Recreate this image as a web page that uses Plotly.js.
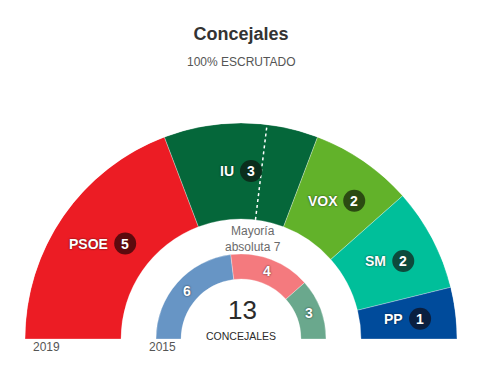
<!DOCTYPE html>
<html><head><meta charset="utf-8">
<script src="https://cdn.plot.ly/plotly-3.0.1.min.js"></script>
<style>html,body{margin:0;padding:0;background:#fff}#chart{width:486px;height:365px}</style>
</head><body><div id="chart"></div>
<script>
// ---- data ----
const parties2019 = ['PSOE', 'IU', 'VOX', 'SM', 'PP'];
const seats2019 = [5, 3, 2, 2, 1];
const colors2019 = ['#ec1c24', '#05673a', '#62b22a', '#00bf9a', '#004b9b'];
const badgeColors2019 = ['#5c0a0e', '#0a2e1c', '#2b4a12', '#0d4a3c', '#0a1f40'];
const seats2015 = [6, 4, 3];
const colors2015 = ['#6795c5', '#f47a7e', '#6aa88d'];
const totalSeats = 13;
const majority = 7;
const yearLabels = ['2019', '2015'];
const titleText = 'Concejales';
const subtitleText = '100% ESCRUTADO';
const centerLabel = 'CONCEJALES';
const majorityLines = ['Mayoría', 'absoluta 7'];

// ---- geometry ----
const W = 486, H = 365;
const R = 216, cx = 241, cy = 339;
const outerIn = 120, innerOut = 85, innerIn = 60;
const FONT = 'Liberation Sans, Arial, sans-serif';
const deg = v => v * 180 / totalSeats;
function arcs(vals) {
  let c = 0;
  return vals.map(v => { const mid = c + v / 2; c += v; return {mid: deg(mid), w: deg(v)}; });
}
const a19 = arcs(seats2019), a15 = arcs(seats2015);
const px = (r, th) => { const phi = (180 - th) * Math.PI / 180; return [cx + r * Math.cos(phi), cy - r * Math.sin(phi)]; };
const toP = (x, y) => [x / W, 1 - y / H];

const shadow = '0px 0px 2px rgba(0,0,0,0.75)';

const traces = [
  {
    type: 'barpolar', r: seats2019.map(() => R - outerIn), base: seats2019.map(() => outerIn),
    theta: a19.map(d => d.mid), width: a19.map(d => d.w),
    marker: {color: colors2019, line: {color: 'rgba(255,255,255,0.5)', width: 0.6}},
    hoverinfo: 'skip', showlegend: false
  },
  {
    type: 'barpolar', r: seats2015.map(() => innerOut - innerIn), base: seats2015.map(() => innerIn),
    theta: a15.map(d => d.mid), width: a15.map(d => d.w),
    marker: {color: colors2015, line: {color: 'rgba(255,255,255,0.5)', width: 0.6}},
    hoverinfo: 'skip', showlegend: false
  },
  {
    type: 'scatterpolar', mode: 'lines', r: [outerIn, R], theta: [deg(majority), deg(majority)],
    line: {color: '#ffffff', width: 1.5, dash: 'dot'}, hoverinfo: 'skip', showlegend: false
  }
];

// measure name widths
const ctx = document.createElement('canvas').getContext('2d');
ctx.font = 'bold 14px "Liberation Sans", Arial, sans-serif';

const shapes = [], annotations = [];
const rMid = (R + outerIn) / 2, gap = 6, dia = 22;
parties2019.forEach((name, i) => {
  const [mx, my] = px(rMid, a19[i].mid);
  const nw = ctx.measureText(name).width;
  const total = nw + gap + dia;
  const left = mx - total / 2;
  const ccx = left + nw + gap + dia / 2;
  const [p0x, p0y] = toP(ccx - dia / 2, my - dia / 2);
  const [p1x, p1y] = toP(ccx + dia / 2, my + dia / 2);
  shapes.push({type: 'circle', xref: 'paper', yref: 'paper', x0: p0x, x1: p1x, y0: p1y, y1: p0y,
    fillcolor: badgeColors2019[i], line: {width: 0}, layer: 'above'});
  const [nx, ny] = toP(left, my);
  annotations.push({xref: 'paper', yref: 'paper', x: nx, y: ny, xanchor: 'left', yanchor: 'middle',
    text: '<b>' + name + '</b>', showarrow: false, borderpad: 0,
    font: {family: FONT, size: 14, color: '#ffffff', shadow: shadow}, xshift: -1});
  const [bx, by] = toP(ccx, my);
  annotations.push({xref: 'paper', yref: 'paper', x: bx, y: by, xanchor: 'center', yanchor: 'middle',
    text: '<b>' + seats2019[i] + '</b>', showarrow: false, borderpad: 0,
    font: {family: FONT, size: 14, color: '#ffffff'}});
});

// inner ring labels
const rIn = (innerOut + innerIn) / 2;
seats2015.forEach((v, i) => {
  const [lx, ly] = px(rIn, a15[i].mid);
  const [qx, qy] = toP(lx, ly);
  annotations.push({xref: 'paper', yref: 'paper', x: qx, y: qy, xanchor: 'center', yanchor: 'middle',
    text: '<b>' + v + '</b>', showarrow: false, borderpad: 0,
    font: {family: FONT, size: 14, color: '#ffffff', shadow: shadow}});
});

// majority label
const [mjx, mjy] = px(101, deg(majority));
const [mpx, mpy] = toP(mjx, mjy);
annotations.push({xref: 'paper', yref: 'paper', x: mpx, y: mpy, xanchor: 'center', yanchor: 'middle',
  text: majorityLines.join('<br>'), showarrow: false, borderpad: 0,
  font: {family: FONT, size: 12, color: '#6b6b6b'}});

// centre
let [ccX, ccY] = toP(cx, cy);
annotations.push({xref: 'paper', yref: 'paper', x: ccX, y: ccY, xanchor: 'center', yanchor: 'middle',
  text: String(totalSeats), showarrow: false, yshift: 29, xshift: 1, font: {family: FONT, size: 26, color: '#2b2b2b'}});
annotations.push({xref: 'paper', yref: 'paper', x: ccX, y: ccY, xanchor: 'center', yanchor: 'middle',
  text: centerLabel, showarrow: false, yshift: 3, font: {family: FONT, size: 10.5, color: '#2b2b2b'}});

// year labels
let [y1x, y1y] = toP(cx - R, cy + 8);
annotations.push({xref: 'paper', yref: 'paper', x: y1x, y: y1y, xanchor: 'left', yanchor: 'middle',
  text: yearLabels[0], showarrow: false, xshift: 6, font: {family: FONT, size: 12, color: '#555555'}});
let [y2x, y2y] = toP(cx - innerOut, cy + 8);
annotations.push({xref: 'paper', yref: 'paper', x: y2x, y: y2y, xanchor: 'center', yanchor: 'middle',
  text: yearLabels[1], showarrow: false, xshift: 6, font: {family: FONT, size: 12, color: '#555555'}});

// subtitle
annotations.push({xref: 'paper', yref: 'paper', x: cx / W, y: 1 - 62 / H, xanchor: 'center', yanchor: 'middle',
  text: subtitleText, showarrow: false, font: {family: FONT, size: 12, color: '#555555'}});

const layout = {
  width: W, height: H, margin: {l: 0, r: 0, t: 0, b: 0},
  paper_bgcolor: '#ffffff', plot_bgcolor: '#ffffff', showlegend: false,
  title: {text: '<b>' + titleText + '</b>', x: cx / W, xanchor: 'center', y: 1 - 34 / H, yref: 'container', yanchor: 'middle',
    font: {family: FONT, size: 18, color: '#333333'}},
  polar: {
    domain: {x: [(cx - R) / W, (cx + R) / W], y: [(H - cy) / H, (H - cy + R) / H]},
    sector: [0, 180], bgcolor: 'rgba(0,0,0,0)',
    radialaxis: {range: [0, R], visible: false, showgrid: false, showline: false, showticklabels: false, ticks: ''},
    angularaxis: {rotation: 180, direction: 'clockwise', visible: false, showgrid: false, showline: false, showticklabels: false, ticks: ''}
  },
  shapes: shapes, annotations: annotations
};

Plotly.newPlot('chart', traces, layout, {displayModeBar: false, staticPlot: true});
</script>
</body></html>
